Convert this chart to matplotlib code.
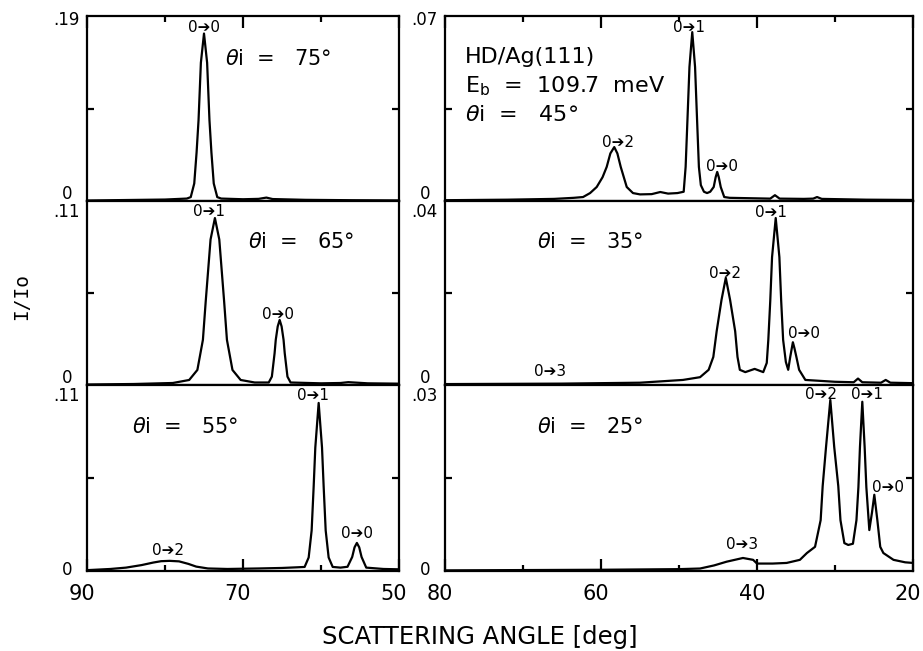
import matplotlib
matplotlib.use('Agg')
import matplotlib.pyplot as plt
from matplotlib.transforms import ScaledTranslation

# HD/Ag(111) rotationally inelastic scattering, E_b = 109.7 meV
# angular distributions I/Io vs scattering angle for six incidence angles

# theta_i = 75 deg
ang_75 = [90, 85, 80, 77.2, 76.7, 76.25, 75.95, 75.7, 75.4, 75.0, 74.6, 74.3, 74.05,
          73.75, 73.3, 72.8, 70, 68, 67.0, 66.2, 62, 56, 50]
int_75 = [0.0005, 0.001, 0.0015, 0.0025, 0.004, 0.018, 0.05, 0.083, 0.142, 0.172, 0.142,
          0.083, 0.05, 0.018, 0.004, 0.0025, 0.0018, 0.0022, 0.0035, 0.002, 0.0012, 0.0008, 0.0006]

# theta_i = 65 deg
ang_65 = [90, 84, 79, 76.9, 75.85, 75.14, 74.78, 74.16, 73.6, 73.04, 72.42, 72.06, 71.35,
          70.3, 68.5, 66.7, 66.3, 65.95, 65.8, 65.55, 65.3, 65.05, 64.8, 64.65, 64.3, 63.9,
          60, 57.5, 56.5, 54, 50]
int_65 = [0.0003, 0.0006, 0.0012, 0.003, 0.009, 0.027, 0.05, 0.087, 0.0998, 0.087, 0.05,
          0.027, 0.009, 0.003, 0.0015, 0.0015, 0.005, 0.019, 0.027, 0.035, 0.0389, 0.035,
          0.027, 0.019, 0.005, 0.0015, 0.001, 0.0012, 0.0017, 0.001, 0.0008]

# theta_i = 55 deg
ang_55 = [90, 87, 85, 83, 81.5, 80.5, 79.4, 78.2, 77, 76, 74.5, 72, 68, 65, 63,
          62.1, 61.58, 61.2, 60.94, 60.73, 60.3, 59.87, 59.66, 59.4, 59.02, 58.5,
          57.5, 56.6, 56.0, 55.7, 55.4, 55.1, 54.8, 54.2, 52, 50]
int_55 = [0.0005, 0.0012, 0.002, 0.0035, 0.005, 0.0058, 0.006, 0.0057, 0.0042, 0.0026,
          0.0015, 0.0012, 0.0015, 0.0018, 0.0022,
          0.0024, 0.008, 0.024, 0.05, 0.073, 0.0994, 0.073, 0.05, 0.024, 0.008, 0.0024,
          0.002, 0.0025, 0.0083, 0.014, 0.0166, 0.014, 0.0083, 0.002, 0.0012, 0.001]

# theta_i = 45 deg
ang_45 = [80, 72, 66, 63.5, 62.3, 61.4, 60.55, 59.8, 59.27, 58.8,
          58.3, 57.9, 57.47, 56.7, 55.9, 55, 53.5, 52.4, 51.4, 50.2,
          49.4, 49.15, 48.9, 48.66, 48.3, 47.94, 47.7, 47.45, 47.2, 46.8,
          46.4, 46.0, 45.55, 45.3, 45.1, 44.9, 44.65, 44.2, 43.5, 40,
          38.3, 37.7, 37.1, 34, 32.8, 32.3, 31.7, 26, 20]
int_45 = [0.0003, 0.0005, 0.0008, 0.0012, 0.0015, 0.003, 0.0053, 0.009, 0.0129, 0.018,
          0.0204, 0.018, 0.0129, 0.0053, 0.003, 0.0025, 0.0026, 0.0034, 0.0028, 0.003,
          0.0035, 0.0129, 0.032, 0.0507, 0.0639, 0.0507, 0.032, 0.0129, 0.006, 0.0035,
          0.003, 0.0035, 0.0053, 0.009, 0.011, 0.009, 0.0053, 0.0015, 0.0012, 0.001,
          0.0009, 0.0022, 0.0009, 0.0008, 0.0009, 0.0015, 0.0008, 0.0005, 0.0004]

# theta_i = 35 deg
ang_35 = [80, 65, 55, 49.5, 47.3, 46.2, 45.6, 45.17, 44.55, 44.0,
          43.45, 42.8, 42.5, 42.2, 41.5, 40.3, 39.2, 38.75, 38.55, 38.3,
          38.07, 37.6, 37.13, 36.9, 36.65, 36.3, 36.0, 35.75, 35.4, 35.2,
          34.95, 34.6, 33.8, 30, 27.6, 27.05, 26.5, 24.1, 23.5, 22.9, 20]
int_35 = [0.0002, 0.0003, 0.0005, 0.0011, 0.0017, 0.0033, 0.0061, 0.0117, 0.0185, 0.0233,
          0.0185, 0.0117, 0.0061, 0.0033, 0.0028, 0.0035, 0.0028, 0.0048, 0.0098, 0.0183,
          0.0278, 0.0363, 0.0278, 0.0183, 0.0098, 0.005, 0.0033, 0.006, 0.0093, 0.008,
          0.0061, 0.0033, 0.0011, 0.0007, 0.0006, 0.0014, 0.0006, 0.0005, 0.0011, 0.0005,
          0.0004]

# theta_i = 25 deg
ang_25 = [80, 60, 50, 47.3, 45.5, 43.9, 41.8, 40.5, 40.0, 38,
          36.2, 34.5, 33.6, 32.56, 31.84, 31.58, 31.15, 30.6, 30.1, 29.58,
          29.3, 28.8, 28.3, 27.7, 27.25, 27.0, 26.8, 26.5, 26.2, 25.98,
          25.6, 25.25, 24.96, 24.57, 24.2, 23.8, 22.5, 21, 20]
int_25 = [0.0001, 0.0002, 0.0003, 0.0004, 0.0009, 0.0015, 0.0021, 0.0018, 0.0012, 0.0012,
          0.0013, 0.0018, 0.0029, 0.0039, 0.0082, 0.0137, 0.02, 0.0276, 0.02, 0.0137,
          0.0082, 0.0045, 0.0042, 0.0044, 0.0082, 0.0135, 0.02, 0.0273, 0.02, 0.0135,
          0.0066, 0.0095, 0.0123, 0.0082, 0.0039, 0.0029, 0.0018, 0.0014, 0.0013]

# y-axis full scale of each panel and its printed label
ymax_vals = {75: 0.19, 65: 0.11, 55: 0.11, 45: 0.07, 35: 0.04, 25: 0.03}
ymax_text = {75: '.19', 65: '.11', 55: '.11', 45: '.07', 35: '.04', 25: '.03'}

# transition labels (from J, to J, angle, intensity of label centre)
peak_labels = {
    75: [('0', '0', 75.0, 0.1777)],
    65: [('0', '1', 74.4, 0.104), ('0', '0', 65.5, 0.0424)],
    55: [('0', '1', 61.0, 0.104), ('0', '2', 79.6, 0.0124), ('0', '0', 55.4, 0.0219)],
    45: [('0', '2', 57.8, 0.0223), ('0', '1', 48.7, 0.0655), ('0', '0', 44.5, 0.0129)],
    35: [('0', '1', 38.2, 0.0376), ('0', '2', 44.1, 0.0243), ('0', '0', 34.0, 0.0113),
         ('0', '3', 66.5, 0.003)],
    25: [('0', '2', 31.8, 0.0284), ('0', '1', 25.9, 0.0284), ('0', '0', 23.2, 0.0135),
         ('0', '3', 41.9, 0.0042)],
}

curves = {75: (ang_75, int_75), 65: (ang_65, int_65), 55: (ang_55, int_55),
          45: (ang_45, int_45), 35: (ang_35, int_35), 25: (ang_25, int_25)}

W, H = 923, 651
fig = plt.figure(figsize=(W / 100, H / 100), dpi=100)

# panel frames in pixels: column left edge / width, row bottom edge / height
col_x = [87, 445]
col_w = [312, 468]
row_bot = [201, 385, 571]
row_h = [185, 184, 186]

layout = [[75, 45], [65, 35], [55, 25]]

LW = 1.6
FS_TICK = 15
shift_left = ScaledTranslation(-5 / 100, 0, fig.dpi_scale_trans)

for r in range(3):
    for c in range(2):
        th = layout[r][c]
        ax = fig.add_axes([col_x[c] / W, 1 - row_bot[r] / H, col_w[c] / W, row_h[r] / H])
        x, y = curves[th]
        ymax = ymax_vals[th]
        ax.plot(x, y, color='black', lw=1.6, solid_joinstyle='round')

        if c == 0:
            ax.set_xlim(90, 50)
            major = [90, 70, 50]
            minor = [80, 60]
        else:
            ax.set_xlim(80, 20)
            major = [80, 60, 40, 20]
            minor = [70, 50, 30]
        ax.set_ylim(0, ymax)

        for sp in ax.spines.values():
            sp.set_linewidth(LW)

        ax.set_xticks(major)
        ax.set_xticks(minor, minor=True)
        ax.tick_params(axis='x', which='both', direction='in', width=LW,
                       bottom=(r == 2), top=(r == 0), labelbottom=(r == 2),
                       labeltop=False, labelsize=FS_TICK, pad=9)
        ax.tick_params(axis='x', which='major', length=8.5)
        ax.tick_params(axis='x', which='minor', length=4)
        # numbers sit a little left of their ticks
        for lab in ax.get_xticklabels():
            lab.set_transform(lab.get_transform() + shift_left)

        # single unlabeled tick at half scale on both sides
        ax.set_yticks([ymax / 2])
        ax.tick_params(axis='y', direction='in', length=5, width=LW,
                       left=True, right=True, labelleft=False)

        # end-of-scale values printed beside the left spine
        top_off = -3 if r == 0 else -8
        zero_off = 5 if r < 2 else 0.5
        ax.annotate(ymax_text[th], xy=(0, 1), xycoords='axes fraction',
                    xytext=(-14.5, top_off), textcoords='offset points',
                    ha='center', va='center', fontsize=12)
        ax.annotate('0', xy=(0, 0), xycoords='axes fraction',
                    xytext=(-14.5, zero_off), textcoords='offset points',
                    ha='center', va='center', fontsize=12)

        # heavy arrow between rotational levels
        for a, b, px, py in peak_labels[th]:
            ax.text(px, py, a + '\u2794' + b, ha='center', va='center', fontsize=11)

        # incidence angle caption
        if th == 45:
            ax.text(77.4, 0.07 * (201 - 57) / 185, 'HD/Ag(111)', ha='left', va='center', fontsize=16)
            ax.text(77.4, 0.07 * (201 - 86) / 185, 'E$_\\mathregular{b}$  =  109.7  meV',
                    ha='left', va='center', fontsize=16)
            ax.text(77.4, 0.07 * (201 - 115) / 185, '$\\theta$i  =   45\u00b0',
                    ha='left', va='center', fontsize=16)
        else:
            if c == 0:
                xt = 72.3 if th == 75 else (69.4 if th == 65 else 84.2)
            else:
                xt = 68.2
            yt = 0.776 * ymax if r > 0 else 0.77 * ymax
            ax.text(xt, yt, '$\\theta$i  =   %d\u00b0' % th, ha='left', va='center', fontsize=15)

fig.text(22 / W, 1 - 296 / H, 'I/Io', rotation=90, ha='center', va='center',
         fontsize=14, family='DejaVu Sans Mono')
fig.text(480 / W, 1 - 637 / H, 'SCATTERING ANGLE [deg]', ha='center', va='center', fontsize=17.5)

fig.savefig('out.png', dpi=100)
